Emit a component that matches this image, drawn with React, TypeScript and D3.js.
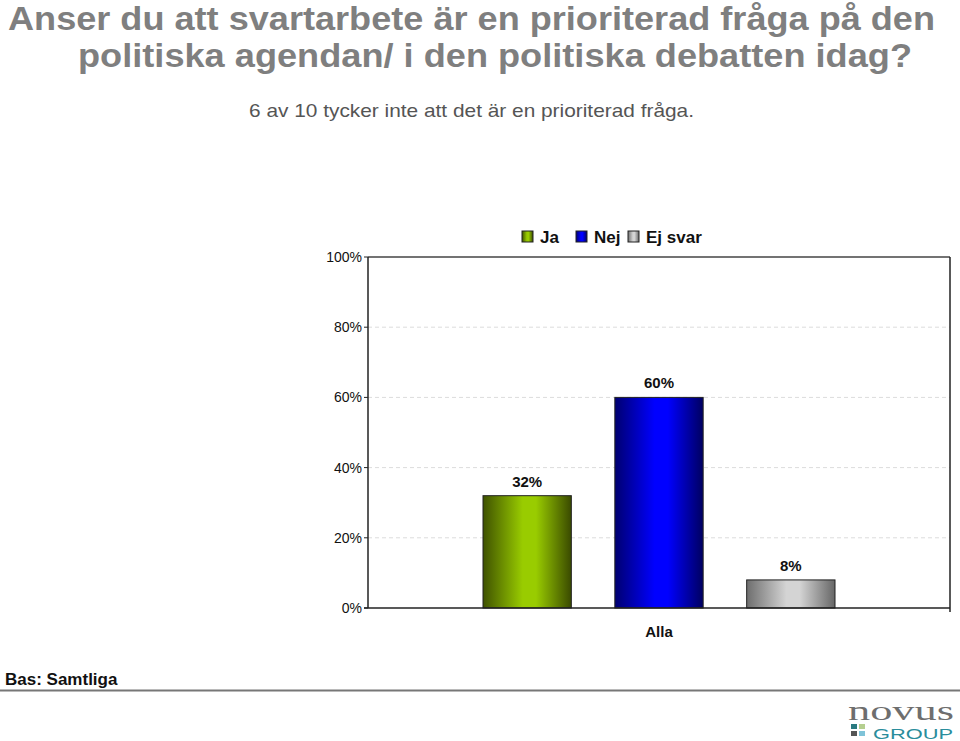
import React from "react";
import * as d3 from "d3";

const categories = ["Alla"];
const seriesNames = ["Ja", "Nej", "Ej svar"];
const seriesValues = [32, 60, 8];
const yTicks = [0, 20, 40, 60, 80, 100];
const seriesColors = [
  { edge: "#3f5200", mid: "#99cc00", dark: "#3a4a00" },
  { edge: "#000070", mid: "#0000ff", dark: "#000060" },
  { edge: "#6e6e6e", mid: "#d4d4d4", dark: "#666666" },
];

const W = 960;
const H = 741;
const plot = { left: 368, right: 950, top: 257, bottom: 608 };

export default function App() {
  const y = d3.scaleLinear().domain([0, 100]).range([plot.bottom, plot.top]);
  const x0 = d3.scaleBand().domain(categories).range([plot.left, plot.right]).paddingInner(0).paddingOuter(0);
  const groupW = 352;
  const x1 = d3
    .scaleBand()
    .domain(seriesNames)
    .range([0, groupW])
    .paddingInner(0.33)
    .paddingOuter(0);
  const font = "'Liberation Sans', Arial, Helvetica, sans-serif";

  return (
    <svg width={W} height={H} style={{ position: "absolute", left: 0, top: 0, background: "#fff" }} fontFamily={font}>
      <defs>
        {seriesColors.map((c, i) => (
          <linearGradient key={i} id={`g${i}`} x1="0" x2="1" y1="0" y2="0">
            <stop offset="0" stopColor={c.edge} />
            <stop offset="0.45" stopColor={c.mid} />
            <stop offset="0.6" stopColor={c.mid} />
            <stop offset="1" stopColor={c.dark} />
          </linearGradient>
        ))}
      </defs>
      <rect x={0} y={0} width={W} height={H} fill="#fff" />
      {/* Title */}
      <text x={8} y={30} fontSize={33} fontWeight="bold" fill="#7f7f7f" textLength={927} lengthAdjust="spacingAndGlyphs">
        Anser du att svartarbete är en prioriterad fråga på den
      </text>
      <text x={78} y={67} fontSize={33} fontWeight="bold" fill="#7f7f7f" textLength={834} lengthAdjust="spacingAndGlyphs">
        politiska agendan/ i den politiska debatten idag?
      </text>
      <text x={249} y={117} fontSize={19} fill="#555" textLength={445} lengthAdjust="spacingAndGlyphs">
        6 av 10 tycker inte att det är en prioriterad fråga.
      </text>

      {/* gridlines */}
      {yTicks
        .filter((t) => t > 0 && t < 100)
        .map((t) => (
          <line key={t} x1={plot.left} x2={plot.right} y1={y(t)} y2={y(t)} stroke="#dcdcdc" strokeDasharray="4,3" strokeWidth={1} />
        ))}

      {/* bars */}
      {categories.map((cat) => {
        const cx = (x0(cat) as number) + x0.bandwidth() / 2;
        const gx = cx - groupW / 2;
        return (
          <g key={cat}>
            {seriesNames.map((s, i) => {
              const bx = gx + (x1(s) as number);
              const v = seriesValues[i];
              return (
                <g key={s}>
                  <rect x={bx} y={y(v)} width={x1.bandwidth()} height={plot.bottom - y(v)} fill={`url(#g${i})`} stroke="#222" strokeWidth={1} />
                  <text x={bx + x1.bandwidth() / 2} y={y(v) - 9} textAnchor="middle" fontSize={15} fontWeight="bold" fill="#111">
                    {`${v}%`}
                  </text>
                </g>
              );
            })}
            <text x={cx} y={637} textAnchor="middle" fontSize={15} fontWeight="bold" fill="#111">
              {cat}
            </text>
          </g>
        );
      })}

      {/* plot frame */}
      <line x1={plot.left} x2={plot.right} y1={plot.top} y2={plot.top} stroke="#444" strokeWidth={1.5} />
      <line x1={plot.right} x2={plot.right} y1={plot.top} y2={plot.bottom + 4} stroke="#222" strokeWidth={1.5} />
      <line x1={plot.left} x2={plot.left} y1={plot.top} y2={plot.bottom} stroke="#222" strokeWidth={1.5} />
      <line x1={plot.left - 4} x2={plot.right} y1={plot.bottom} y2={plot.bottom} stroke="#222" strokeWidth={1.5} />

      {/* y ticks */}
      {yTicks.map((t) => (
        <g key={t}>
          <line x1={plot.left - 4} x2={plot.left} y1={y(t)} y2={y(t)} stroke="#222" strokeWidth={1} />
          <text x={plot.left - 6} y={y(t) + 5} textAnchor="end" fontSize={14} fill="#111">
            {`${t}%`}
          </text>
        </g>
      ))}

      {/* legend */}
      {seriesNames.map((s, i) => {
        const xs = [522, 576, 628][i];
        return (
          <g key={s}>
            <rect x={xs} y={231} width={11} height={11} fill={`url(#g${i})`} stroke="#222" strokeWidth={1} />
            <text x={xs + 18} y={243} fontSize={17} fontWeight="bold" fill="#111">
              {s}
            </text>
          </g>
        );
      })}

      {/* footer */}
      <text x={5} y={685} fontSize={17} fontWeight="bold" fill="#111">
        Bas: Samtliga
      </text>
      <line x1={0} x2={W} y1={690.5} y2={690.5} stroke="#777" strokeWidth={2} />

      {/* logo */}
      <text x={848} y={720} fontSize={28} fontFamily="'Liberation Serif', 'DejaVu Serif', serif" fill="#6e6e6e" textLength={106} lengthAdjust="spacingAndGlyphs">
        novus
      </text>
      <rect x={851} y={724} width={6} height={5} fill="#2a7a80" />
      <rect x={859} y={724} width={6} height={5} fill="#b5cf8f" />
      <rect x={851} y={731} width={6} height={5} fill="#555" />
      <rect x={859} y={731} width={6} height={5} fill="#7fc3d8" />
      <text x={873} y={739} fontSize={15} fill="#2a8d9c" textLength={80} lengthAdjust="spacingAndGlyphs">
        GROUP
      </text>
    </svg>
  );
}
